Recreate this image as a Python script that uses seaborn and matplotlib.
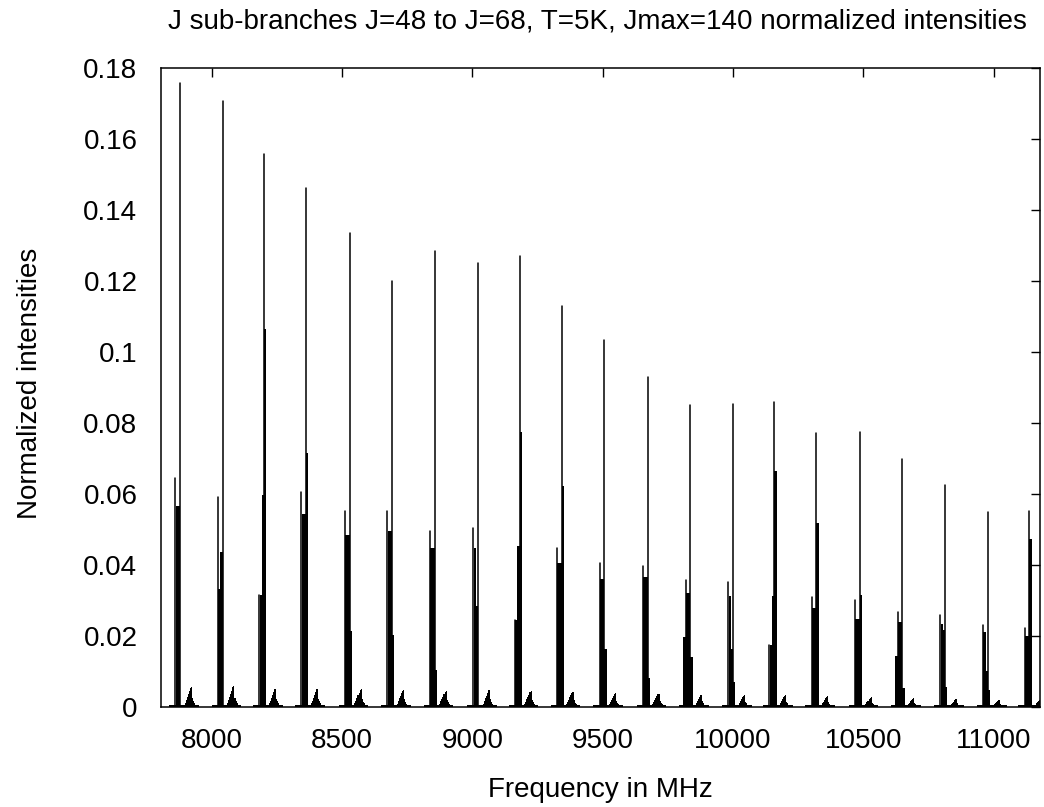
import numpy as np
import pandas as pd
import matplotlib
matplotlib.use("Agg")
import matplotlib.pyplot as plt
import seaborn as sns

# ---------------- data ----------------
j_values = list(range(48, 69))
# frequency of the strongest line of each J sub-branch (MHz)
center_freq = [7878, 8041, 8200, 8362, 8529, 8692, 8855, 9022, 9181, 9342, 9506,
               9672, 9836, 10000, 10158, 10320, 10486, 10650, 10814, 10978, 11137]
# strongest line
peak_int = [0.1759, 0.1707, 0.1558, 0.1463, 0.1334, 0.1200, 0.1284, 0.1250, 0.1270,
            0.1130, 0.1035, 0.0930, 0.0851, 0.0854, 0.0860, 0.0771, 0.0776, 0.0700,
            0.0626, 0.0548, 0.0553]
# isolated line just left of the dense group
side_line_int = [0.0645, 0.0591, 0.0316, 0.0607, 0.0552, 0.0552, 0.0496, 0.0503, 0.0246,
                 0.0448, 0.0405, 0.0398, 0.0359, 0.0351, 0.0175, 0.0311, 0.0301, 0.0267,
                 0.0260, 0.0231, 0.0222]
# dense groups of lines (left far, left, left near, right of the strongest line)
group_low_int = [0, 0, 0, 0, 0, 0, 0, 0, 0, 0, 0, 0, 0.0196, 0, 0, 0, 0, 0.0143, 0, 0, 0]
group_b_int = [0.0567, 0.0331, 0.0316, 0.0543, 0.0484, 0.0496, 0.0448, 0.0448, 0.0246,
               0.0405, 0.0361, 0.0365, 0.0320, 0.0314, 0.0175, 0.0279, 0.0248, 0.0240,
               0.0234, 0.0210, 0.0201]
group_c_int = [0.0567, 0.0436, 0.0597, 0.0543, 0.0484, 0.0496, 0.0448, 0.0285, 0.0453,
               0.0405, 0.0361, 0.0365, 0.0320, 0.0162, 0.0314, 0.0279, 0.0248, 0.0240,
               0.0217, 0.0102, 0.0201]
group_r_int = [0, 0, 0.1065, 0.0716, 0.0215, 0.0203, 0.0104, 0, 0.0776, 0.0622, 0.0162,
               0.0081, 0.0142, 0.0071, 0.0666, 0.0517, 0.0316, 0.0053, 0.0055, 0.0049,
               0.0473]
# small hump of weak lines to the right of each group
hump_peak_int = [0.0056, 0.0058, 0.0052, 0.0052, 0.0050, 0.0048, 0.0045, 0.0049, 0.0044,
                 0.0042, 0.0040, 0.0038, 0.0035, 0.0034, 0.0034, 0.0030, 0.0028, 0.0025,
                 0.0023, 0.0021, 0.0020]
hump_profile = [0.2, 0.35, 0.5, 0.65, 0.8, 0.95, 1.0, 0.45, 0.3, 0.2, 0.12]
floor_int = 0.0006

# frequency offsets (MHz) of the line groups relative to the strongest line
side_line_offset = -18
low_span = (-27, -18)
b_span = (-17, -8)
c_span = (-8, 0)
r_span = (0, 9)
hump_edges = [18, 22, 26, 30, 34, 38, 42, 46, 50, 54, 58, 62]
floor_span = (-42, 72)

x_ticks = [8000, 8500, 9000, 9500, 10000, 10500, 11000]
x_tick_labels = ["8000", "8500", "9000", "9500", "10000", "10500", "11000"]
y_ticks = [0, 0.02, 0.04, 0.06, 0.08, 0.10, 0.12, 0.14, 0.16, 0.18]
y_tick_labels = ["0", "0.02", "0.04", "0.06", "0.08", "0.1", "0.12", "0.14", "0.16", "0.18"]

title_text = "J sub-branches J=48 to J=68, T=5K, Jmax=140 normalized intensities"
x_label = "Frequency in MHz"
y_label = "Normalized intensities"

# ---------------- build tables ----------------
stick_rows = []
for k, f0 in enumerate(center_freq):
    for name, off, h in (("side", side_line_offset, side_line_int[k]),
                         ("peak", 0, peak_int[k])):
        uid = f"{j_values[k]}_{name}"
        stick_rows.append((uid, f0 + off, 0.0))
        stick_rows.append((uid, f0 + off, h))
sticks = pd.DataFrame(stick_rows, columns=["unit", "freq", "intensity"])

seg = []  # (left, right, height)
for k, f0 in enumerate(center_freq):
    for span, h in ((low_span, group_low_int[k]), (b_span, group_b_int[k]),
                    (c_span, group_c_int[k]), (r_span, group_r_int[k])):
        if h > 0:
            seg.append((f0 + span[0], f0 + span[1], h))
    for i, p in enumerate(hump_profile):
        seg.append((f0 + hump_edges[i], f0 + hump_edges[i + 1], hump_peak_int[k] * p))
seg = pd.DataFrame(seg, columns=["left", "right", "h"])
seg["mid"] = (seg["left"] + seg["right"]) / 2
seg_edges = np.unique(np.concatenate([seg["left"].values, seg["right"].values])).tolist()

floor = pd.DataFrame({"left": [f + floor_span[0] for f in center_freq],
                      "right": [f + floor_span[1] for f in center_freq],
                      "h": [floor_int] * len(center_freq)})
floor["mid"] = (floor["left"] + floor["right"]) / 2
floor_edges = np.unique(np.concatenate([floor["left"].values, floor["right"].values])).tolist()

# ---------------- plot ----------------
sns.set_style("white")
plt.rcParams["font.family"] = ["Liberation Sans", "DejaVu Sans"]
plt.rcParams["axes.edgecolor"] = "black"
plt.rcParams["axes.linewidth"] = 1.1

fig = plt.figure(figsize=(10.44, 8.07), dpi=100)
ax = fig.add_axes([161 / 1044, 1 - 707 / 807, (1040 - 161) / 1044, (707 - 68) / 807])

sns.histplot(data=floor, x="mid", weights="h", bins=floor_edges,
             stat="count", element="bars", fill=True, color="black", alpha=1,
             linewidth=0, ax=ax)
sns.histplot(data=seg, x="mid", weights="h", bins=seg_edges,
             stat="count", element="bars", fill=True, color="black", alpha=1,
             linewidth=0, ax=ax)
sns.lineplot(data=sticks, x="freq", y="intensity", units="unit", estimator=None,
             sort=False, color="black", linewidth=1.1, ax=ax)

ax.set_xlim(7805, 11178)
ax.set_ylim(0, 0.18)
ax.set_xticks(x_ticks)
ax.set_xticklabels(x_tick_labels)
ax.set_yticks(y_ticks)
ax.set_yticklabels(y_tick_labels)
ax.tick_params(axis="both", direction="in", length=6.5, width=1.0, color="black",
               top=True, right=True, labelsize=20, labelcolor="black")
ax.tick_params(axis="x", pad=15)
ax.tick_params(axis="y", pad=17)
for s in ax.spines.values():
    s.set_visible(True)
    s.set_color("black")
    s.set_linewidth(1.1)
ax.grid(False)

ax.set_xlabel(x_label, fontsize=20, color="black")
ax.set_ylabel(y_label, fontsize=20, color="black")
ax.xaxis.set_label_coords((600 - 161) / 879, (707 - 790) / 639)
ax.xaxis.label.set_verticalalignment("center")
ax.yaxis.set_label_coords((30 - 161) / 879, (707 - 383) / 639)
ax.yaxis.label.set_verticalalignment("center")

fig.text(597 / 1044, 1 - 22 / 807, title_text, ha="center", va="center",
         fontsize=20, color="black")

fig.savefig("out.png", dpi=100, facecolor="white")
